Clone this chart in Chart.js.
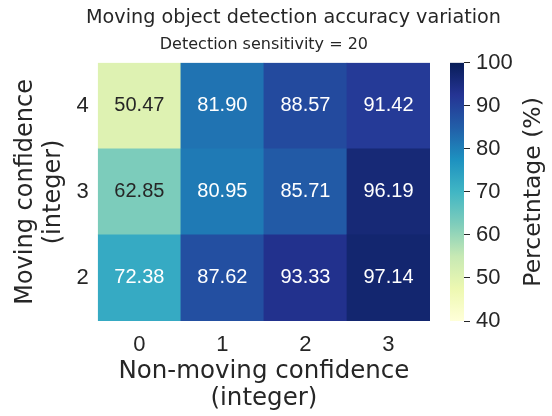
<!DOCTYPE html>
<html>
<head>
<meta charset="utf-8">
<script src="https://cdn.jsdelivr.net/npm/chart.js@4.4.1/dist/chart.umd.min.js"></script>
<style>
  html, body { margin: 0; padding: 0; background: #fff; overflow: hidden; }
  #wrap { position: absolute; left: 0; top: 0; width: 587px; height: 416px; }
</style>
</head>
<body>
<div id="wrap"><canvas id="mainChart" width="587" height="416"></canvas></div>
<script>
// heatmap values (rows listed top to bottom in the picture)
var colLabels = ['0', '1', '2', '3'];
var rowLabels = ['4', '3', '2'];
var row4 = [50.47, 81.90, 88.57, 91.42];
var row3 = [62.85, 80.95, 85.71, 96.19];
var row2 = [72.38, 87.62, 93.33, 97.14];
var cbMin = 40, cbMax = 100;

// YlGnBu
var ylgnbu = ['#ffffd9', '#edf8b1', '#c7e9b4', '#7fcdbb', '#41b6c4', '#1d91c0', '#225ea8', '#253494', '#081d58'];

function hexToRgb(h) {
  return [parseInt(h.substr(1, 2), 16), parseInt(h.substr(3, 2), 16), parseInt(h.substr(5, 2), 16)];
}
function cellRgb(v) {
  var t = (v - cbMin) / (cbMax - cbMin);
  t = Math.max(0, Math.min(1, t)) * (ylgnbu.length - 1);
  var i = Math.min(Math.floor(t), ylgnbu.length - 2);
  var f = t - i;
  var a = hexToRgb(ylgnbu[i]), b = hexToRgb(ylgnbu[i + 1]);
  return [0, 1, 2].map(function(k) { return Math.round(a[k] + (b[k] - a[k]) * f); });
}
function cellColor(v) {
  var c = cellRgb(v);
  return 'rgb(' + c[0] + ',' + c[1] + ',' + c[2] + ')';
}
function textColor(v) {
  var c = cellRgb(v).map(function(x) {
    x = x / 255;
    return x <= 0.03928 ? x / 12.92 : Math.pow((x + 0.055) / 1.055, 2.4);
  });
  var lum = 0.2126 * c[0] + 0.7152 * c[1] + 0.0722 * c[2];
  return lum > 0.408 ? '#262626' : '#ffffff';
}

// bottom row first so the stack builds upward
var rows = [row2, row3, row4];
var datasets = rows.map(function(vals) {
  return {
    data: vals.map(function() { return 1; }),
    acc: vals,
    backgroundColor: vals.map(cellColor),
    borderWidth: 0,
    barPercentage: 1,
    categoryPercentage: 1,
    yAxisID: 'yv'
  };
});

var ink = '#262626';
var labelFont = 'DejaVu Sans';
var numFont = '"Liberation Sans", Arial, sans-serif';

var heatPlugin = {
  id: 'heat',
  afterDatasetsDraw: function(chart) {
    var ctx = chart.ctx;
    ctx.save();
    ctx.font = '20px ' + numFont;
    ctx.textAlign = 'center';
    ctx.textBaseline = 'middle';
    chart.data.datasets.forEach(function(ds, i) {
      chart.getDatasetMeta(i).data.forEach(function(bar, j) {
        ctx.fillStyle = textColor(ds.acc[j]);
        ctx.fillText(ds.acc[j].toFixed(2), bar.x, (bar.y + bar.base) / 2);
      });
    });
    ctx.restore();
  },
  afterDraw: function(chart) {
    // colour bar next to the heatmap, on the cb scale
    var ctx = chart.ctx;
    var gap = chart.scales.gap, cb = chart.scales.cb;
    var yTop = cb.getPixelForValue(cbMax), yBot = cb.getPixelForValue(cbMin);
    var g = ctx.createLinearGradient(0, yBot, 0, yTop);
    ylgnbu.forEach(function(c, i) { g.addColorStop(i / (ylgnbu.length - 1), c); });
    ctx.save();
    ctx.fillStyle = g;
    ctx.fillRect(gap.right - 14, yTop, 14, yBot - yTop);
    ctx.translate(cb.left + 70, (cb.top + cb.bottom) / 2);
    ctx.rotate(-Math.PI / 2);
    ctx.font = '23.5px "' + labelFont + '"';
    ctx.fillStyle = ink;
    ctx.textAlign = 'center';
    ctx.textBaseline = 'middle';
    ctx.fillText('Percetntage (%)', 0, 0);
    ctx.restore();
  }
};

Chart.defaults.font.family = numFont;
Chart.defaults.color = ink;

var myChart = new Chart(document.getElementById('mainChart'), {
  type: 'bar',
  data: { labels: colLabels, datasets: datasets },
  options: {
    responsive: false,
    animation: false,
    devicePixelRatio: 1,
    layout: { padding: 0 },
    plugins: {
      legend: { display: false },
      tooltip: { enabled: false },
      title: {
        display: true,
        text: 'Moving object detection accuracy variation',
        color: ink,
        font: { family: labelFont, size: 19.2, weight: 'normal', lineHeight: 1.2 },
        padding: { top: 6.1, bottom: 2.7 }
      },
      subtitle: {
        display: true,
        fullSize: false,
        text: 'Detection sensitivity = 20',
        color: ink,
        font: { family: labelFont, size: 16, weight: 'normal', lineHeight: 1.2 },
        padding: { top: 3, bottom: 8.8 }
      }
    },
    scales: {
      x: {
        stacked: true,
        grid: { display: false, drawTicks: false },
        border: { display: false },
        ticks: { font: { size: 22 }, color: ink, padding: 10.8 },
        title: {
          display: true,
          text: ['Non-moving confidence', '(integer)'],
          color: ink,
          font: { family: labelFont, size: 24.5, lineHeight: 1.12 },
          padding: { top: 0, bottom: 3.3 }
        },
        afterFit: function(s) { s.height = 95; }
      },
      yv: {
        type: 'linear',
        display: false,
        stacked: true,
        min: 0,
        max: 3
      },
      y: {
        type: 'category',
        position: 'left',
        labels: rowLabels,
        offset: true,
        grid: { display: false, drawTicks: false },
        border: { display: false },
        ticks: { font: { size: 22 }, color: ink, padding: 9 },
        title: {
          display: true,
          text: ['Moving confidence', '(integer)'],
          color: ink,
          font: { family: labelFont, size: 24, lineHeight: 1.15 },
          padding: { top: 12.3, bottom: 7.5 }
        }
      },
      gap: {
        type: 'linear',
        position: 'right',
        weight: 0,
        min: 0,
        max: 1,
        grid: { display: false, drawTicks: false },
        border: { display: false },
        ticks: { display: false },
        afterFit: function(s) { s.width = 34; }
      },
      cb: {
        type: 'linear',
        position: 'right',
        weight: 1,
        min: cbMin,
        max: cbMax,
        grid: { display: true, drawOnChartArea: false, drawTicks: true, tickLength: 6, color: ink, lineWidth: 1 },
        border: { display: false },
        ticks: { stepSize: 10, font: { size: 22 }, color: ink, padding: 6 },
        afterFit: function(s) { s.width = 123; }
      }
    }
  },
  plugins: [heatPlugin]
});
</script>
</body>
</html>
